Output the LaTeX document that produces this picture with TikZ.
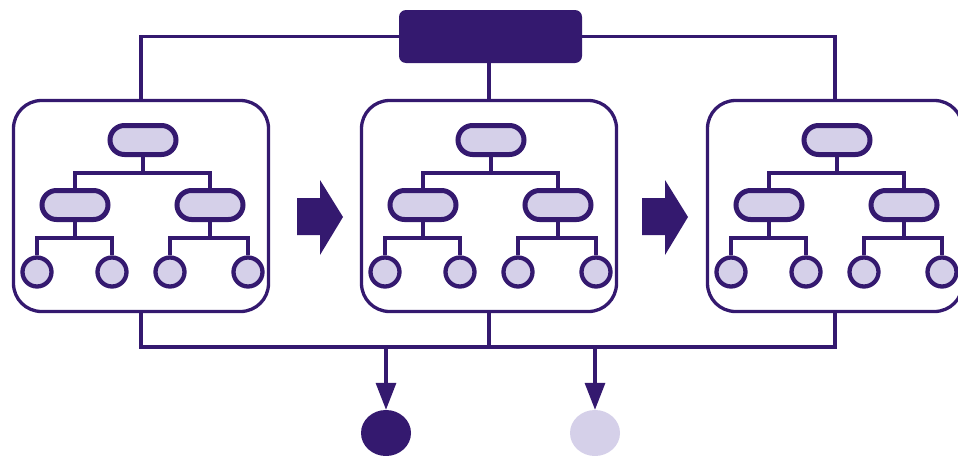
\documentclass[tikz,border=0pt]{standalone}
\usetikzlibrary{arrows.meta,shapes.geometric}
\definecolor{dk}{HTML}{34196F}
\definecolor{lv}{HTML}{D5D0E9}
\begin{document}
\begin{tikzpicture}[x=1pt,y=-1pt,
  conn/.style={draw=dk,line width=3.3pt},
  panel/.style={draw=dk,line width=3.3pt,fill=white,rounded corners=28pt,minimum width=255pt,minimum height=211pt,inner sep=0pt},
  capsule/.style={draw=dk,line width=5pt,fill=lv,rounded corners=14.5pt,minimum width=66pt,minimum height=29pt,inner sep=0pt},
  leaf/.style={draw=dk,line width=4.3pt,fill=lv,circle,minimum size=29pt,inner sep=0pt},
  headbox/.style={fill=dk,rounded corners=7pt,minimum width=183pt,minimum height=53pt,inner sep=0pt},
  outdot/.style={ellipse,minimum width=50pt,minimum height=46pt,inner sep=0pt},
  arr/.style={draw=dk,line width=3.3pt,-{Triangle[width=20pt,length=27pt]}},
  blockarrow/.style={fill=dk}
]
\useasboundingbox (0,0) rectangle (958,455);
\clip (0,0) rectangle (958,455);
\node[headbox] (top) at (490.5,36.5) {};
\foreach \i/\dx in {1/0,2/348,3/694}{
  \node[panel] (p\i) at (141+\dx,206) {};
  \node[capsule] (t\i) at (143+\dx,140) {};
  \node[capsule] (l\i) at (75+\dx,205) {};
  \node[capsule] (r\i) at (210+\dx,205) {};
  \node[leaf] (a\i) at (37+\dx,272) {};
  \node[leaf] (b\i) at (112+\dx,272) {};
  \node[leaf] (c\i) at (170+\dx,272) {};
  \node[leaf] (d\i) at (248+\dx,272) {};
  \coordinate (h\i) at (0,173);
  \coordinate (g\i) at (0,238);
  \draw[conn] (t\i.south) -- (t\i.south |- h\i);
  \draw[conn] (l\i.north) -- (l\i.north |- h\i) -- (r\i.north |- h\i) -- (r\i.north);
  \draw[conn] (l\i.south) -- (l\i.south |- g\i);
  \draw[conn] (a\i.north) -- (a\i.north |- g\i) -- (b\i.north |- g\i) -- (b\i.north);
  \draw[conn] (r\i.south) -- (r\i.south |- g\i);
  \draw[conn] (c\i.north) -- (c\i.north |- g\i) -- (d\i.north |- g\i) -- (d\i.north);
}
% top connectors
\draw[conn] (top.west) -| (p1.north);
\draw[conn] (top.east) -| (p3.north);
\draw[conn] (p2.north) -- (p2.north |- top.south);
% block arrows
\foreach \dx in {0,345}{
  \fill[blockarrow] (297+\dx,198) -- (320+\dx,198) -- (320+\dx,180) -- (343+\dx,217) -- (320+\dx,255) -- (320+\dx,235) -- (297+\dx,235) -- cycle;
}
% bottom bus
\coordinate (bus) at (0,347);
\draw[conn] (p1.south) -- (p1.south |- bus) -- (p3.south |- bus) -- (p3.south);
\draw[conn] (p2.south) -- (p2.south |- bus);
\node[outdot,fill=dk] (o1) at (386,433) {};
\node[outdot,fill=lv] (o2) at (595,433) {};
\draw[arr] (o1.north |- bus) -- (o1.north);
\draw[arr] (o2.north |- bus) -- (o2.north);
\end{tikzpicture}
\end{document}
